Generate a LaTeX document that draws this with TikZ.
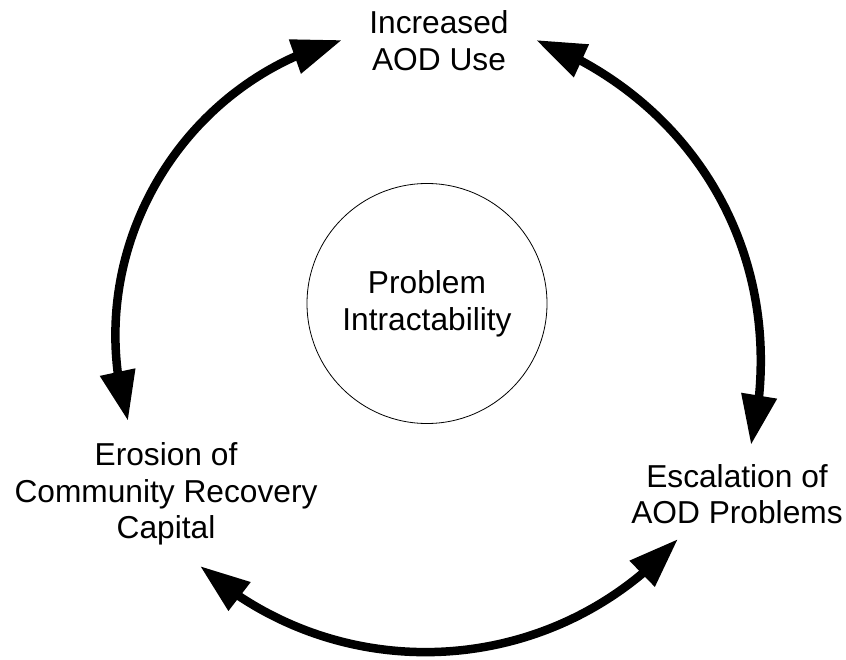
\documentclass[tikz,border=0pt]{standalone}
\usepackage{fontspec}
\setmainfont{Liberation Sans}
\usetikzlibrary{arrows.meta,bending}
\begin{document}
\begin{tikzpicture}[x=1pt,y=-1pt,
  labeltext/.style={align=center, inner sep=0pt, anchor=north, font=\fontsize{31.7}{36.7}\selectfont},
  cyclearrow/.style={line width=8.5pt, {Triangle[length=50pt,width=34pt]}-{Triangle[length=50pt,width=34pt]}},
  hubstyle/.style={circle, draw, line width=0.8pt, minimum size=240pt, inner sep=0pt, align=center, font=\fontsize{31.7}{36.7}\selectfont}]
\useasboundingbox[fill=white] (0,0) rectangle (846,660);

% nodes
\node[hubstyle] (hub) at (427,303.5) {Problem\\Intractability};
\node[labeltext] (use) at (439,10.6) {Increased\\AOD Use};
\node[labeltext] (erosion) at (166,442.3) {Erosion of\\Community Recovery\\Capital};
\node[labeltext] (escal) at (737,464) {Escalation of\\AOD Problems};

% arrow end points
\coordinate (useL) at (342,40);
\coordinate (useR) at (536,40);
\coordinate (eroT) at (128,421);
\coordinate (eroB) at (200,566);
\coordinate (escT) at (751,445);
\coordinate (escB) at (678,539);

% connectors
\draw[cyclearrow] (useL) to[bend right=46] (eroT);
\draw[cyclearrow] (useR) to[bend left=41] (escT);
\draw[cyclearrow] (eroB) to[bend right=45] (escB);
\end{tikzpicture}
\end{document}
